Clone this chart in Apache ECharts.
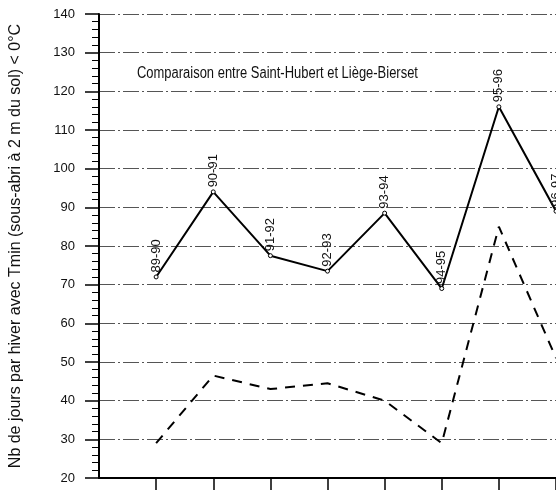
<!DOCTYPE html>
<html><head><meta charset="utf-8">
<script src="https://cdn.jsdelivr.net/npm/echarts@6/dist/echarts.min.js"></script>
<style>html,body{margin:0;padding:0;background:#fff}#c{width:556px;height:490px}</style>
</head><body><div id="c"></div>
<script>
const categories = ['', '89-90', '90-91', '91-92', '92-93', '93-94', '94-95', '95-96', '96-97'];
const sthubert = [null, 72, 94, 77.5, 73.5, 88.5, 69, 116, 89];
const liege = [null, 29, 46.5, 43, 44.5, 40, 29, 85, 51];
const yTicks = [20, 30, 40, 50, 60, 70, 80, 90, 100, 110, 120, 130, 140];
const titleText = 'Comparaison entre Saint-Hubert et Liège-Bierset';
const yName = 'Nb de jours par hiver avec Tmin (sous-abri à 2 m du sol) < 0°C';

const chart = echarts.init(document.getElementById('c'));
const font = '"Liberation Sans", Arial, sans-serif';
chart.setOption({
  animation: false,
  backgroundColor: '#fff',
  graphic: [{
    type: 'text', x: 137, y: 66, scaleX: 0.81, z: 10,
    style: { text: titleText, x: 0, y: 0, fill: '#111', font: '16px "Liberation Sans", Arial, sans-serif', verticalAlign: 'top', align: 'left' }
  }],
  grid: { left: 94, top: 14, bottom: 12, right: -1 },
  xAxis: {
    type: 'category', data: categories, boundaryGap: false,
    axisLine: { lineStyle: { color: '#000', width: 2 } },
    axisTick: { length: 14, lineStyle: { color: '#000', width: 1.5 }, interval: (i) => i > 0 },
    axisLabel: { show: false },
    splitLine: { show: false }
  },
  yAxis: {
    type: 'value', min: yTicks[0], max: yTicks[yTicks.length - 1], interval: 10,
    name: yName, nameLocation: 'middle', nameGap: 75,
    nameTextStyle: { fontFamily: font, fontSize: 16, color: '#111' },
    axisLine: { show: true, lineStyle: { color: '#000', width: 2 } },
    axisTick: { show: true, length: 14, lineStyle: { color: '#000', width: 1.5 } },
    minorTick: { show: true, splitNumber: 5, length: 7, lineStyle: { color: '#000', width: 1 } },
    axisLabel: { margin: 24, fontFamily: font, fontSize: 13, color: '#111' },
    splitLine: { show: true, lineStyle: { color: '#555', width: 1, type: [16, 3, 2, 3] } }
  },
  series: [
    {
      name: 'Saint-Hubert', type: 'line', data: sthubert,
      symbol: 'circle', symbolSize: 4,
      itemStyle: { color: '#fff', borderColor: '#000', borderWidth: 1 },
      lineStyle: { color: '#000', width: 2 },
      label: {
        show: true, position: 'top', distance: 2, rotate: 90, align: 'left', verticalAlign: 'middle',
        fontFamily: font, fontSize: 13, color: '#111',
        formatter: (p) => categories[p.dataIndex]
      },
      z: 3
    },
    {
      name: 'Liège-Bierset', type: 'line', data: liege,
      symbol: 'none',
      lineStyle: { color: '#000', width: 2, type: [10, 8] },
      z: 3
    }
  ]
});
</script></body></html>
